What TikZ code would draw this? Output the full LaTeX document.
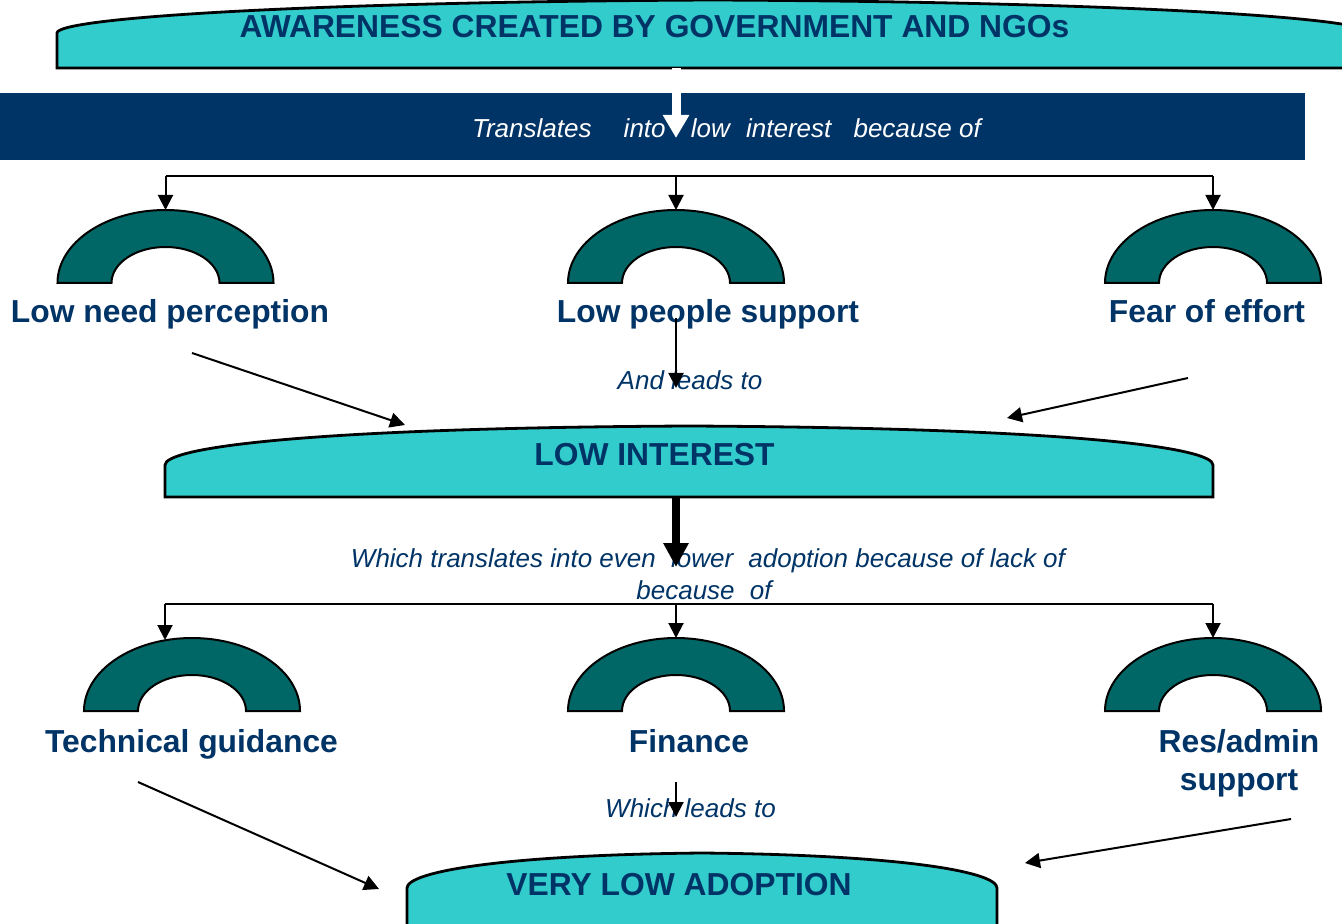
\documentclass[tikz,border=0pt]{standalone}
\usepackage{fontspec}
\setmainfont{Liberation Sans}
\usetikzlibrary{arrows.meta}
\definecolor{bannercyan}{RGB}{51,204,204}
\definecolor{archteal}{RGB}{0,102,102}
\definecolor{navy}{RGB}{0,51,102}

% half ring: centre x, base y, name of its top point
\newcommand{\halfring}[3]{%
  \filldraw[arch] (#1-108,#2) arc[start angle=180, end angle=360, x radius=108, y radius=73]
    -- (#1+54,#2) arc[start angle=0, end angle=-180, x radius=54, y radius=36] -- cycle;
  \coordinate (#3) at (#1,#2-73);
}

\begin{document}
\begin{tikzpicture}[x=0.5pt, y=-0.5pt,
    banner/.style={fill=bannercyan, draw=black, line width=1.4pt},
    arch/.style={fill=archteal, draw=black, line width=1pt},
    lbl/.style={text=navy, anchor=base, font=\fontsize{15.9}{19}\selectfont\bfseries},
    note/.style={text=navy, anchor=base, font=\fontsize{13}{16}\selectfont\itshape},
    thinarrow/.style={-{Triangle[length=7.5pt, width=7.5pt]}, line width=1pt},
    bigarrow/.style={-{Triangle[length=12pt, width=12pt]}, line width=4.2pt}]
    \useasboundingbox (0,0) rectangle (1342,924);
    \clip (0,0) rectangle (1342,924);

    % Awareness
    \draw[banner] (57,68) -- (57,33) .. controls (57,18) and (300,2) .. (713,0)
        .. controls (1126,2) and (1370,18) .. (1370,33) -- (1370,68) -- cycle;
    \node[lbl] (aware) at (654.5,38) {AWARENESS CREATED BY GOVERNMENT AND NGOs};

    \fill[navy] (0,93) rectangle (1305,160);
    \node[note, text=white, anchor=base west] (transl) at (465,138)
        {Translates\hspace{12.5pt} into\hspace{9pt} low\hspace{4.5pt} interest\hspace{7.5pt} because of};
    \coordinate (awbot) at (676,68);
    \coordinate (bandtip) at (676,138);
    \draw[-{Triangle[length=11.5pt, width=12.5pt]}, white, line width=4.5pt] (awbot) -- (bandtip);

    % First row of causes
    \halfring{165.5}{283}{ring1}
    \halfring{676}{283}{ring2}
    \halfring{1213}{283}{ring3}
    \coordinate (fork1) at (165.5,176);
    \coordinate (fork2) at (676,176);
    \coordinate (fork3) at (1213,176);
    \draw[line width=1pt] (fork1) -- (fork3);
    \foreach \i in {1,2,3}
        \draw[thinarrow] (fork\i) -- (ring\i);

    \node[lbl] (lneed) at (170,323) {Low need perception};
    \node[lbl] (lpeople) at (708,323) {Low people support};
    \node[lbl] (fear) at (1207,323) {Fear of effort};

    \node[note] (andleads) at (690,390) {And leads to};
    \coordinate (peoplefrom) at (676,318);
    \coordinate (andtip) at (676,388);
    \draw[thinarrow] (peoplefrom) -- (andtip);

    % Low interest
    \draw[banner] (165,497) -- (165,465) .. controls (165,448) and (300,428) .. (689,426)
        .. controls (1078,428) and (1213,448) .. (1213,465) -- (1213,497) -- cycle;
    \node[lbl] (lowint) at (654.5,466) {LOW INTEREST};

    \coordinate (needfrom) at (192,353);
    \coordinate (needto) at (405,425);
    \coordinate (fearfrom) at (1188,378);
    \coordinate (fearto) at (1007,418);
    \draw[thinarrow] (needfrom) -- (needto);
    \draw[thinarrow] (fearfrom) -- (fearto);

    \node[note] (whichtr) at (708,567)
        {Which translates into even\hspace{4pt} lower\hspace{4pt} adoption because of lack of};
    \node[note] (becof) at (704,599) {because\hspace{4pt} of};
    \coordinate (intbot) at (676,497);
    \coordinate (inttip) at (676,567);
    \draw[bigarrow] (intbot) -- (inttip);

    % Second row of causes
    \halfring{192}{711}{ring4}
    \halfring{676}{711}{ring5}
    \halfring{1213}{711}{ring6}
    \coordinate (fork4) at (165,604);
    \coordinate (fork5) at (676,604);
    \coordinate (fork6) at (1213,604);
    \coordinate (ring4hit) at (165,640);
    \draw[line width=1pt] (fork4) -- (fork6);
    \draw[thinarrow] (fork4) -- (ring4hit);
    \draw[thinarrow] (fork5) -- (ring5);
    \draw[thinarrow] (fork6) -- (ring6);

    \node[lbl] (techg) at (191.5,752) {Technical guidance};
    \node[lbl] (finance) at (689,752) {Finance};
    \node[lbl, align=center] (resadmin) at (1239,790) {Res/admin\\support};

    \node[note] (whichleads) at (690.5,817) {Which leads to};
    \coordinate (finfrom) at (676,782);
    \coordinate (fintip) at (676,817);
    \draw[thinarrow] (finfrom) -- (fintip);

    % Very low adoption
    \draw[banner] (407,940) -- (407,888) .. controls (407,872) and (500,855) .. (702,853)
        .. controls (904,855) and (997,872) .. (997,888) -- (997,940) -- cycle;
    \node[lbl] (verylow) at (679,895) {VERY LOW ADOPTION};

    \coordinate (techfrom) at (138,782);
    \coordinate (techto) at (379,889);
    \coordinate (resfrom) at (1291,819);
    \coordinate (resto) at (1025,863);
    \draw[thinarrow] (techfrom) -- (techto);
    \draw[thinarrow] (resfrom) -- (resto);
\end{tikzpicture}
\end{document}
